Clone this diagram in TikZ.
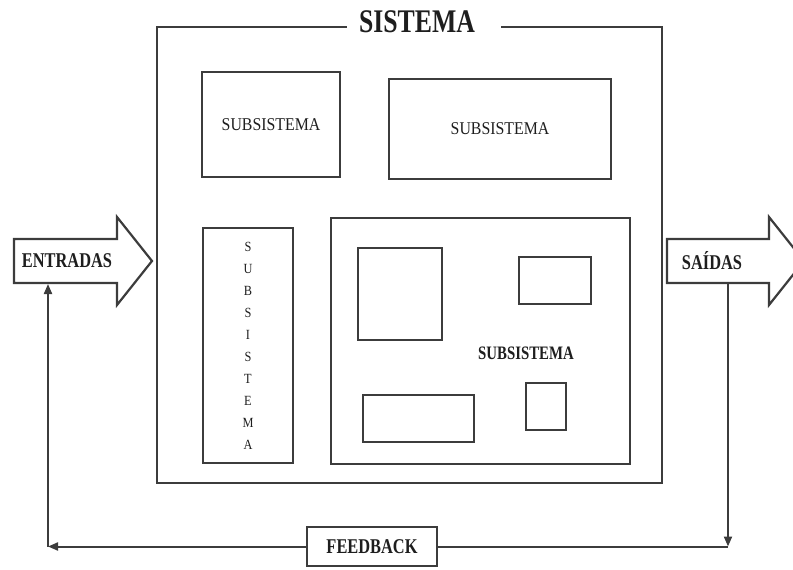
\documentclass[tikz,border=0pt]{standalone}
\usepackage{fontspec}
\setmainfont{Liberation Serif}
\newfontfamily\condfont[FakeStretch=0.78]{Liberation Serif}
\newfontfamily\subfont[FakeStretch=0.88]{Liberation Serif}
\usetikzlibrary{positioning,arrows.meta}
\definecolor{LineGray}{RGB}{60,60,60}
\definecolor{TextGray}{RGB}{30,30,30}

\begin{document}
\begin{tikzpicture}[
  x=1pt, y=-1pt,
  every node/.style={text=TextGray},
  subbox/.style={draw=LineGray, line width=2.2pt, minimum width=#1, inner sep=0pt},
  subbox/.default=40,
  innerbox/.style={draw=LineGray, line width=2pt, inner sep=0pt},
  sublabel/.style={font=\subfont\fontsize{18}{20}\selectfont},
  boldlabel/.style={font=\condfont\bfseries\fontsize{21}{24}\selectfont},
  bigarrow/.style={draw=LineGray, line width=2.2pt, line join=miter, fill=white},
  frame/.style={draw=LineGray, line width=2.2pt},
  flow/.style={draw=LineGray, line width=2pt, -{Triangle[length=10pt,width=8pt]}},
  plain/.style={draw=LineGray, line width=2pt}
]
\useasboundingbox (0,0) rectangle (793,570);
\clip (0,0) rectangle (793,570);

% sistema frame and title
\node[font=\condfont\bfseries\fontsize{33}{36}\selectfont, inner sep=0pt] (titulo) at (417,22) {SISTEMA};
\node[minimum width=505, minimum height=456, inner sep=0pt] (sistema) at (409.5,255) {};
\draw[frame] ([xshift=-12]titulo.west |- sistema.north) -- (sistema.north west) -- (sistema.south west)
  -- (sistema.south east) -- (sistema.north east) -- ([xshift=26]titulo.east |- sistema.north);

% subsistemas
\node[subbox=138, minimum height=105, sublabel] (sub1) at (271,124.5) {SUBSISTEMA};
\node[subbox=222, minimum height=100, sublabel] (sub2) at (500,129) {SUBSISTEMA};
\node[subbox=90, minimum height=235, align=center, font=\subfont\fontsize{14}{22}\selectfont] (sub3) at (248,345.5)
  {S\\U\\B\\S\\I\\S\\T\\E\\M\\A};
\node[subbox=299, minimum height=246] (sub4) at (480.5,341) {};
\node[boldlabel, font=\condfont\bfseries\fontsize{19}{22}\selectfont] (sub4lbl) at (526,353) {SUBSISTEMA};

% componentes internos
\node[innerbox, minimum width=84, minimum height=92] (compA) at (400,294) {};
\node[innerbox, minimum width=72, minimum height=47] (compB) at (555,280.5) {};
\node[innerbox, minimum width=111, minimum height=47] (compC) at (418.5,418.5) {};
\node[innerbox, minimum width=40, minimum height=47] (compD) at (546,406.5) {};

% entradas e saidas
\draw[bigarrow] (14,239) -- (117,239) -- (117,217) -- (152,261) -- (117,305) -- (117,283) -- (14,283) -- cycle;
\node[boldlabel] (entradas) at (67,261) {ENTRADAS};
\draw[bigarrow] (667,239) -- (769,239) -- (769,217) -- (804,261) -- (769,305) -- (769,283) -- (667,283) -- cycle;
\node[boldlabel] (saidas) at (712,261) {SAÍDAS};

% feedback
\node[subbox=130, minimum height=39, boldlabel] (feedback) at (372,546.5) {FEEDBACK};
\coordinate (entBase) at (48,284);
\coordinate (saiBase) at (728,284);
\coordinate (fbR) at (728,546.5);
\coordinate (fbL) at (48,546.5);

\draw[flow] (saiBase) -- (fbR);
\draw[plain] (fbR) -- (feedback.east);
\draw[flow] (feedback.west) -- (fbL);
\draw[flow] (fbL) -- (entBase);
\end{tikzpicture}
\end{document}
